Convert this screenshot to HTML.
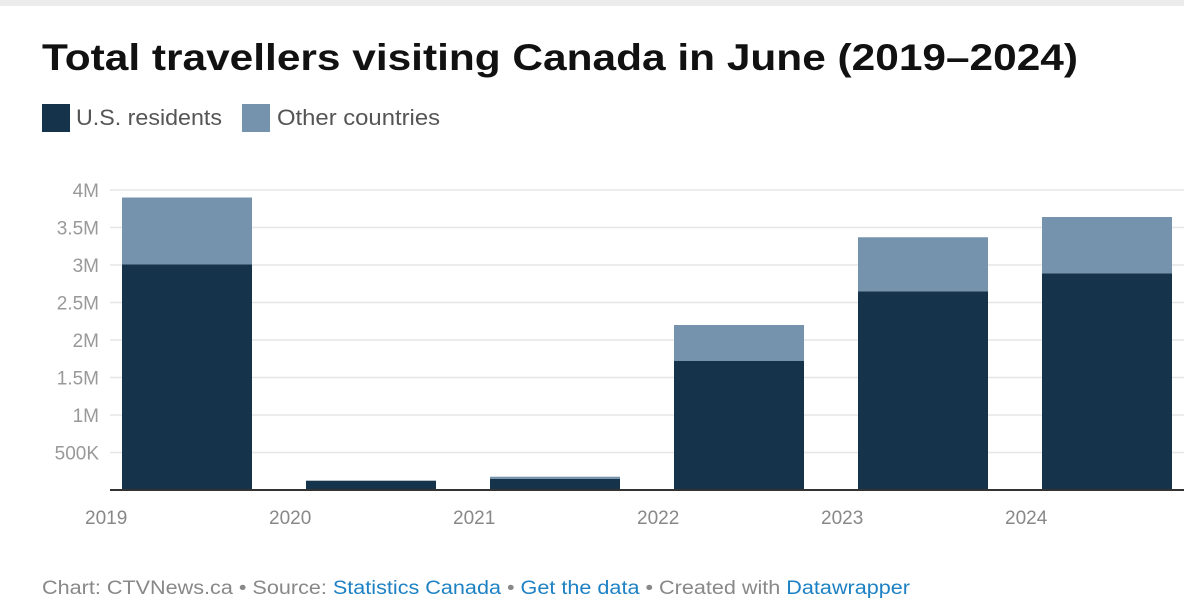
<!DOCTYPE html>
<html><head><meta charset="utf-8"><style>
html,body{margin:0;padding:0;background:#fff;width:1184px;height:606px;overflow:hidden}
svg{display:block;font-family:"Liberation Sans",Arial,sans-serif}
</style></head><body>
<svg width="1184" height="606">
<rect x="0" y="0" width="1184" height="6" fill="#ececec"/>
<text x="42" y="70" font-size="37" font-weight="bold" fill="#111" textLength="1036" lengthAdjust="spacingAndGlyphs">Total travellers visiting Canada in June (2019–2024)</text>
<g>
<rect x="42" y="104" width="28" height="28" fill="#15334a"/>
<text x="76" y="125" font-size="22" fill="#555" textLength="146" lengthAdjust="spacingAndGlyphs">U.S. residents</text>
<rect x="242" y="104" width="28" height="28" fill="#7693ae"/>
<text x="277" y="125" font-size="22" fill="#555" textLength="163" lengthAdjust="spacingAndGlyphs">Other countries</text>
</g>
<g id="grid"></g><g id="bars"></g><g id="axes"></g>
<text x="42" y="594" font-size="19" fill="#888" textLength="868" lengthAdjust="spacingAndGlyphs">Chart: CTVNews.ca • Source: <tspan fill="#1d81c4">Statistics Canada</tspan> • <tspan fill="#1d81c4">Get the data</tspan> • Created with <tspan fill="#1d81c4">Datawrapper</tspan></text>
</svg>
<script>
const years=["2019","2020","2021","2022","2023","2024"];
const usResidents=[3.01,0.124,0.15,1.72,2.65,2.89];
const otherCountries=[0.89,0.0,0.027,0.48,0.72,0.75];
const yTicks=[0.5,1,1.5,2,2.5,3,3.5,4];
const yTickLabels=["500K","1M","1.5M","2M","2.5M","3M","3.5M","4M"];
const NS="http://www.w3.org/2000/svg";
const y0=490,pxPerM=75,slot0=122,slotW=184,barW=130;
const yScale=v=>y0-v*pxPerM;
const xScale=i=>slot0+i*slotW;
function mk(tag,attrs,parent){const e=document.createElementNS(NS,tag);for(const k in attrs)e.setAttribute(k,attrs[k]);parent.appendChild(e);return e;}
const grid=document.getElementById('grid'),bars=document.getElementById('bars'),axes=document.getElementById('axes');
yTicks.forEach((t,i)=>{
 const l=mk('line',{x1:110,x2:1184,y1:yScale(t),y2:yScale(t),stroke:'#e6e6e6','stroke-width':1.5},grid);
 
 
 const tx=mk('text',{x:99,y:yScale(t)+7,'font-size':19,fill:'#999','text-anchor':'end'},axes);
 tx.textContent=yTickLabels[i];
 
 
});
years.forEach((yr,i)=>{
 const x=xScale(i);
 const b1=mk('rect',{x:x,y:yScale(usResidents[i]),width:barW,height:usResidents[i]*pxPerM,fill:'#15334a'},bars);
 
 
 const b2=mk('rect',{x:x,y:yScale(usResidents[i]+otherCountries[i]),width:barW,height:otherCountries[i]*pxPerM,fill:'#7693ae'},bars);
 
 
 const tl=mk('text',{x:x-37,y:524,'font-size':19,fill:'#888'},axes);
 tl.textContent=yr;
 
 
});
const ax=mk('line',{x1:110,x2:1184,y1:y0,y2:y0,stroke:'#333','stroke-width':2},axes);


</script>
</body></html>
